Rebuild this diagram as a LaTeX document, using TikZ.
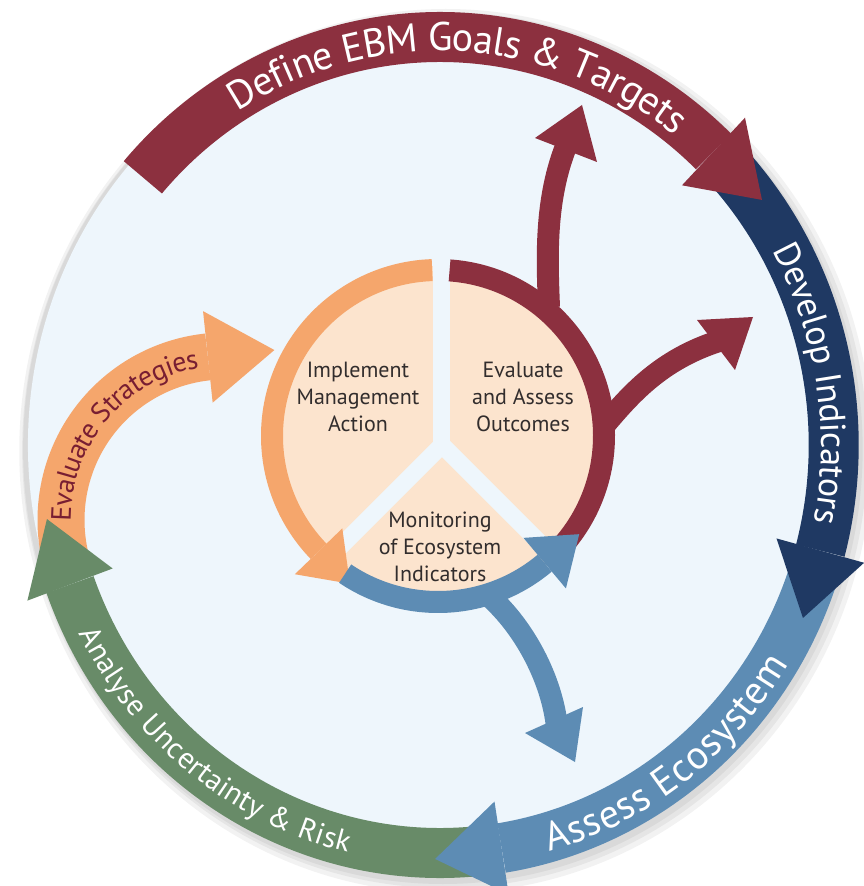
\documentclass[tikz,border=0pt]{standalone}
\usepackage{fontspec}
\setmainfont{PT Sans}
\usetikzlibrary{decorations.text,calc}
\definecolor{cMaroon}{RGB}{140,48,63}
\definecolor{cNavy}{RGB}{31,57,99}
\definecolor{cSteel}{RGB}{93,140,180}
\definecolor{cGreen}{RGB}{104,139,104}
\definecolor{cOrange}{RGB}{245,166,108}
\definecolor{cPeach}{RGB}{252,228,206}
\definecolor{cBg}{RGB}{238,246,252}
\definecolor{cInText}{RGB}{50,45,45}
\definecolor{cEvalText}{RGB}{120,30,50}
\tikzset{
  ringframe/.style={shift={(-5,2)}, xscale=0.965},
  band/.style={line width=50pt, line cap=butt},
  obband/.style={line width=47pt, line cap=butt},
  innerband/.style={line width=22pt, line cap=butt},
  stem/.style={line width=22pt, line cap=butt},
  gapline/.style={line width=17pt, line cap=round, cBg},
  intext/.style={font=\fontsize{22}{27}\selectfont, align=center, text=cInText, inner sep=0pt},
}
\begin{document}
\begin{tikzpicture}[x=1pt,y=1pt]
\useasboundingbox (-445,-439) rectangle (419,447);
\fill[white] (-445,-439) rectangle (419,447);
\begin{scope}[ringframe]
  % soft shadow
  \fill[black, opacity=0.05] (6,-6) circle (442);
  \fill[black, opacity=0.05] (5,-5) circle (438);
  \fill[black, opacity=0.05] (3,-4) circle (435);
  % background disk
  \fill[cBg] (0,0) circle (427);
  % outer ring bands
  \draw[band, cMaroon] (139:408) arc[start angle=139, end angle=46, radius=408];
  \draw[band, cNavy] (43:408) arc[start angle=43, end angle=-15, radius=408];
  \draw[band, cSteel] (-18:408) arc[start angle=-18, end angle=-81, radius=408];
  \draw[band, cGreen] (-84:408) arc[start angle=-84, end angle=-160, radius=408];
\end{scope}
% orange "Evaluate Strategies" band
\coordinate (oc) at (-220,-73);
\draw[obband, cOrange] ($(oc)+(198:164)$) arc[start angle=198, end angle=96, radius=164];
\fill[cOrange] ($(oc)+(96:210)$) -- ($(oc)+(73.8:177)$) -- ($(oc)+(96:118)$) -- cycle;
\begin{scope}[ringframe]
  % outer heads
  \fill[cMaroon] (46:455) -- (36.3:414) -- (46:361) -- cycle;
  \fill[cNavy] (-15:455) -- (-24.7:414) -- (-15:361) -- cycle;
  \fill[cSteel] (-81:455) -- (-90.7:414) -- (-81:361) -- cycle;
  \fill[cGreen] (-160:455) -- (-169.7:414) -- (-160:361) -- cycle;
  % outer labels
  \path[decorate, decoration={text along path, text align=center, text color=white, raise=-14pt,
    text={|\fontsize{40}{40}\selectfont|Define EBM Goals {\&} Targets}}]
    (150:408) arc[start angle=150, end angle=24, radius=408];
  \path[decorate, decoration={text along path, text align=center, text color=white, raise=-12.5pt,
    text={|\fontsize{36}{36}\selectfont|Develop Indicators}}]
    (60:408) arc[start angle=60, end angle=-41.6, radius=408];
  \path[decorate, decoration={text along path, text align=center, text color=white, raise=-14pt,
    text={|\fontsize{40}{40}\selectfont|Assess Ecosystem}}]
    (-110:408) arc[start angle=-110, end angle=3.2, radius=408];
  \path[decorate, decoration={text along path, text align=center, text color=white, raise=-10.5pt,
    text={|\fontsize{30}{30}\selectfont|Analyse Uncertainty {\&} Risk}}]
    (-185:408) arc[start angle=-185, end angle=-70.4, radius=408];
\end{scope}
\path[decorate, decoration={text along path, text align=center, text color=cEvalText, raise=-9.8pt,
  text={|\fontsize{28}{28}\selectfont|Evaluate Strategies}}]
  ($(oc)+(200:164)$) arc[start angle=200, end angle=80, radius=164];

% ---- inner circle ----
\begin{scope}[shift={(-7,11)}]
  \fill[cPeach] (0,0) circle (170);
\end{scope}
\coordinate (J) at (-3,2);
\draw[gapline] (J) -- (-3,200);
\draw[gapline] (J) -- ++(225:190);
\draw[gapline] (J) -- ++(-45:190);
\begin{scope}[shift={(-7,11)}]
  \draw[innerband, cOrange] (92:166) arc[start angle=92, end angle=224, radius=166];
  \fill[cOrange] (224:199) -- (239.2:172) -- (224:133) -- cycle;
  \draw[innerband, cMaroon] (86:166) arc[start angle=86, end angle=-41, radius=166];
\end{scope}
% red branches
\draw[stem, cMaroon] (104,140) .. controls (102,190) and (100,245) .. (120,298);
\fill[cMaroon] (90,309) -- (137,342) -- (152,285) -- cycle;
\draw[stem, cMaroon] (158,20) .. controls (185,52) and (215,87) .. (274,106);
\fill[cMaroon] (252,127) -- (308,130) -- (290,77) -- cycle;
% blue inner ring
\begin{scope}[shift={(-7,11)}]
  \draw[innerband, cSteel] (236:166) arc[start angle=236, end angle=310, radius=166];
  \fill[cSteel] (310:199) -- (325.2:172) -- (310:133) -- cycle;
\end{scope}
% blue branch
\draw[stem, cSteel] (44,-149) .. controls (80,-181) and (107,-233) .. (112,-280);
\fill[cSteel] (80,-286) -- (130,-315) -- (138,-260) -- cycle;

% ---- inner labels ----
\node[intext] (impl) at (-87,50) {Implement\\Management\\Action};
\node[intext] (eval) at (78,50) {Evaluate\\and Assess\\Outcomes};
\node[intext] (moni) at (-5,-100) {Monitoring\\of Ecosystem\\Indicators};
\end{tikzpicture}
\end{document}
